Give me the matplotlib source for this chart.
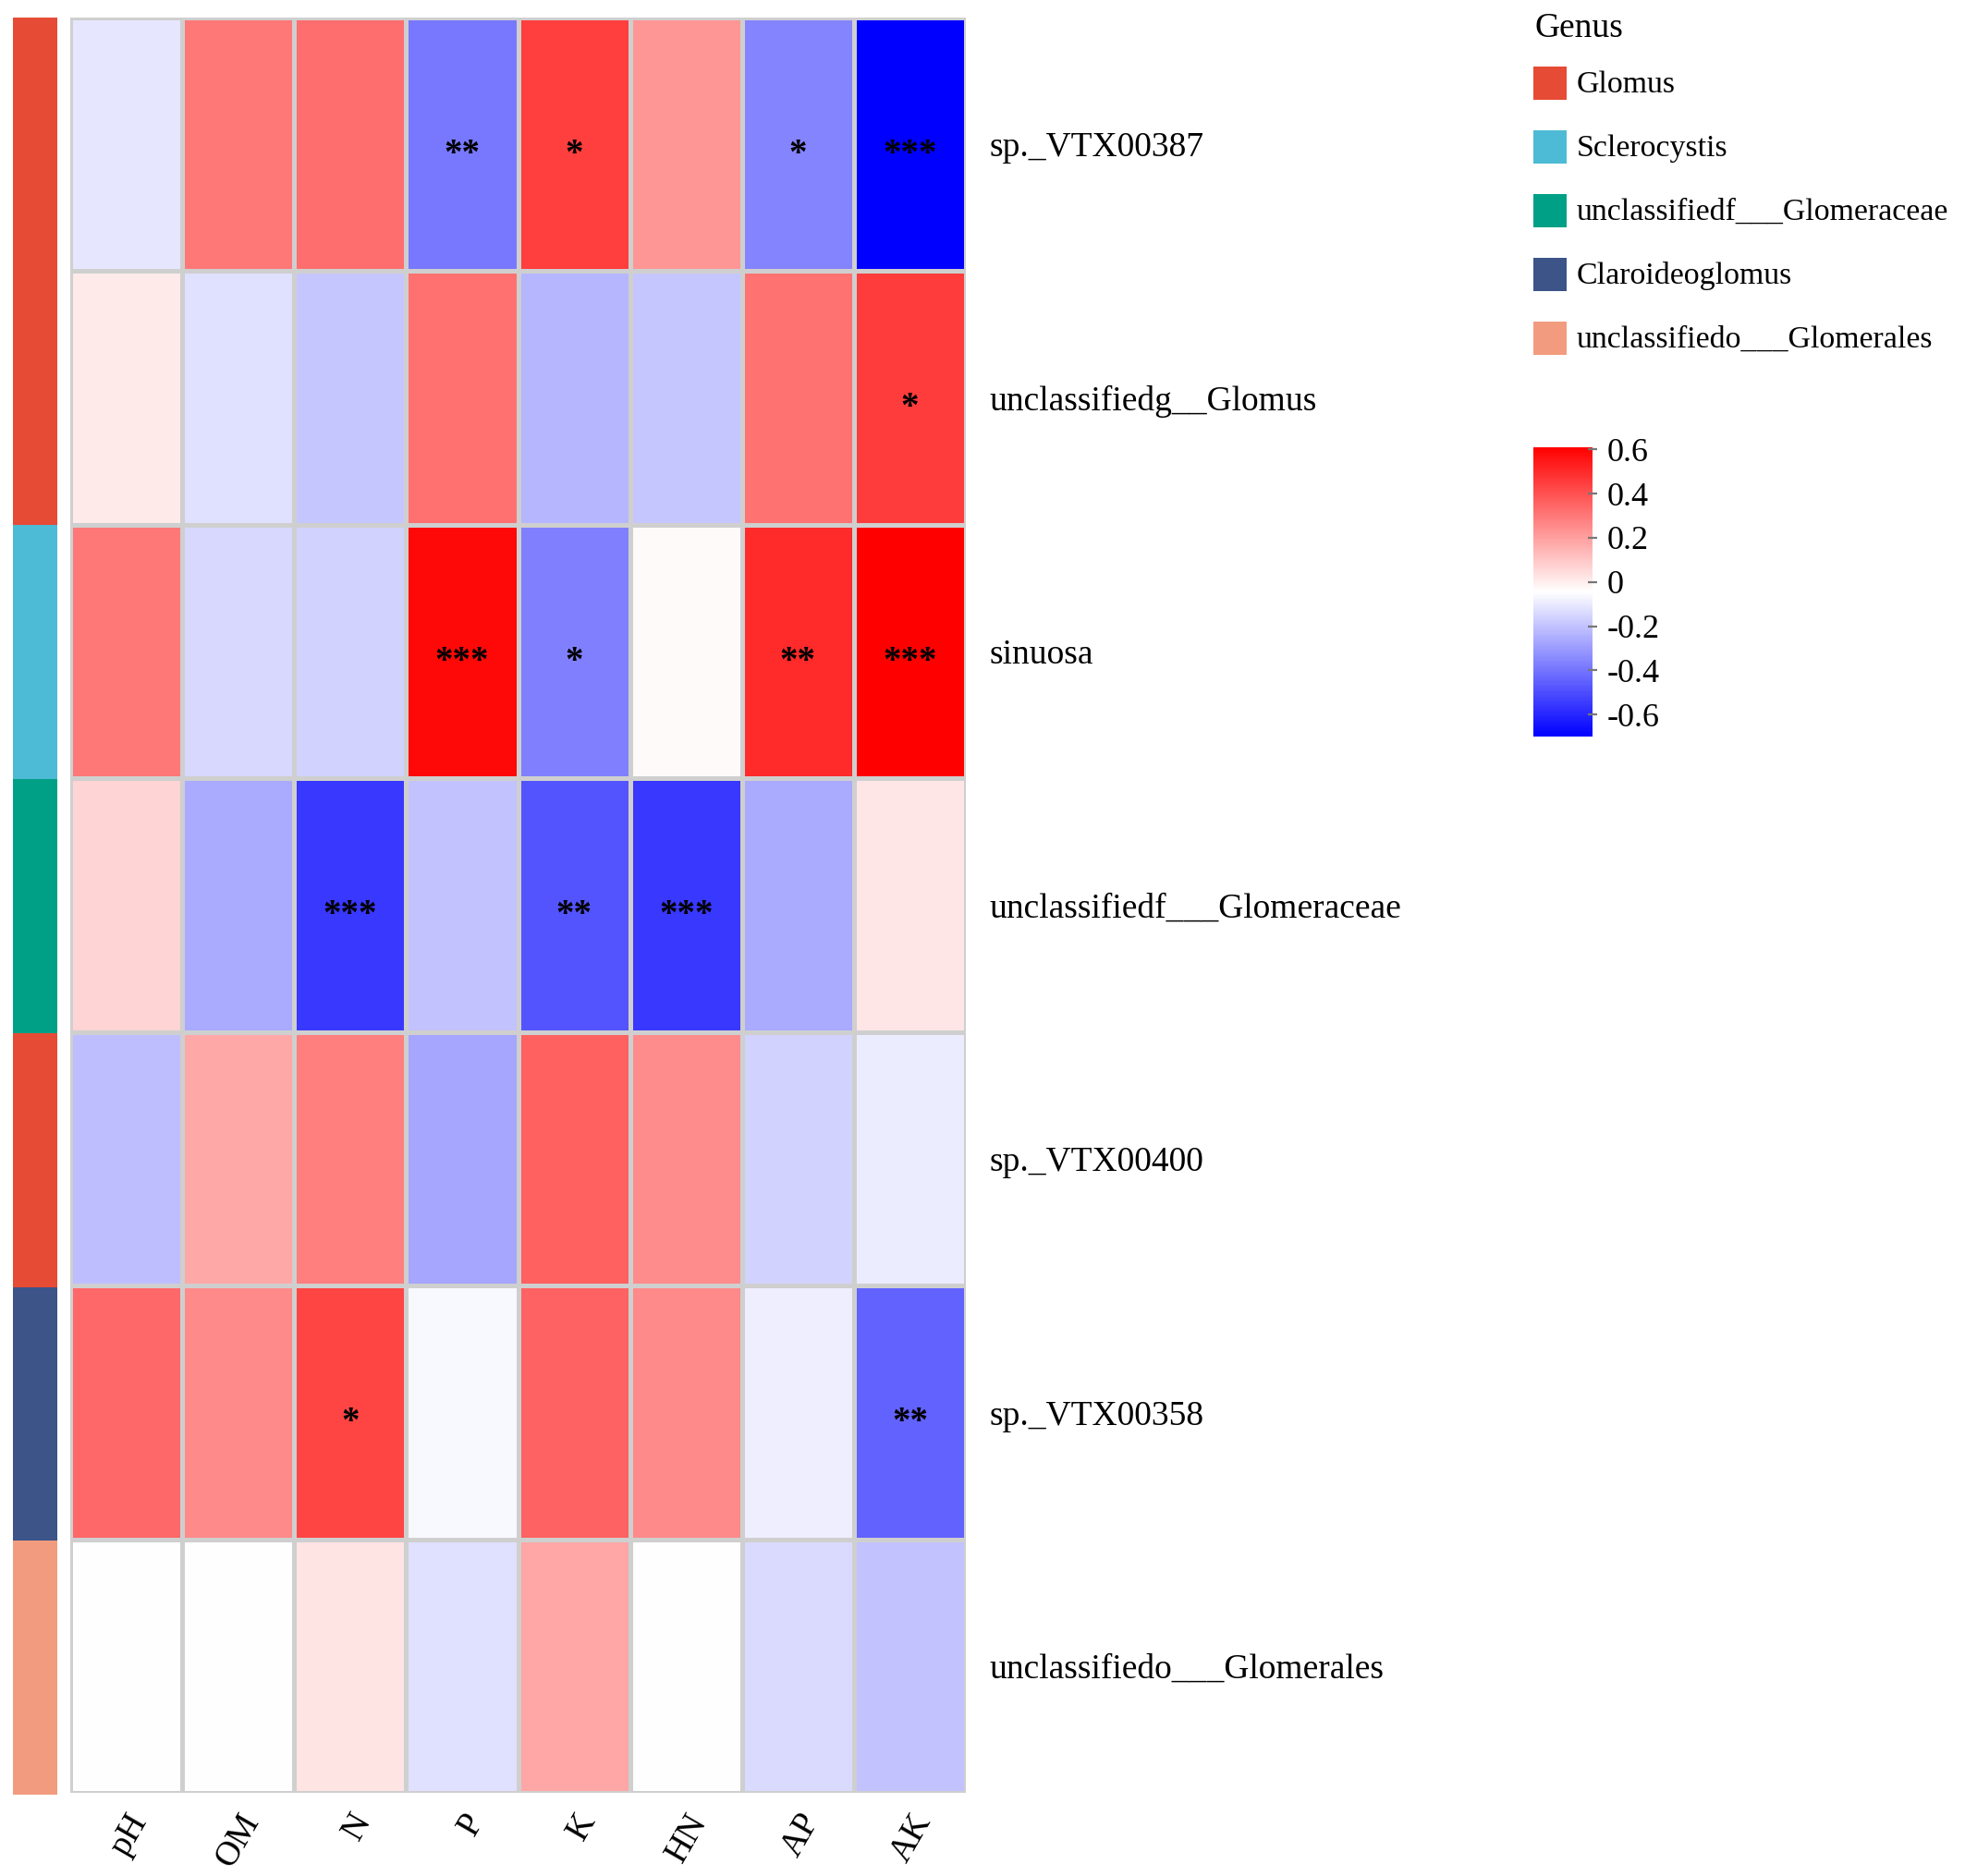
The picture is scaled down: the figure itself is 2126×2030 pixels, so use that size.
import numpy as np
import matplotlib.pyplot as plt
import matplotlib.transforms as mtransforms
from matplotlib.colors import LinearSegmentedColormap, ListedColormap, Normalize
from matplotlib.patches import Rectangle

plt.rcParams['font.family'] = ['Liberation Serif', 'DejaVu Serif']

# données
variables = ["pH", "OM", "N", "P", "K", "HN", "AP", "AK"]
especes = ["sp._VTX00387", "unclassifiedg__Glomus", "sinuosa",
           "unclassifiedf___Glomeraceae", "sp._VTX00400", "sp._VTX00358",
           "unclassifiedo___Glomerales"]
genres = ["Glomus", "Sclerocystis", "unclassifiedf___Glomeraceae",
          "Claroideoglomus", "unclassifiedo___Glomerales"]
couleurs_genres = ["#E64B35", "#4DBBD5", "#00A087", "#3C5488", "#F39B7F"]
genre_espece = [0, 0, 1, 2, 0, 3, 4]

correl = np.array([
    [-0.11, 0.30, 0.325, -0.39, 0.45, 0.225, -0.36, -0.70],
    [0.01, -0.125, -0.19, 0.32, -0.23, -0.19, 0.315, 0.455],
    [0.30, -0.145, -0.16, 0.585, -0.37, -0.03, 0.50, 0.61],
    [0.065, -0.26, -0.555, -0.20, -0.48, -0.555, -0.265, 0.02],
    [-0.21, 0.18, 0.285, -0.275, 0.36, 0.25, -0.16, -0.095],
    [0.34, 0.255, 0.435, -0.065, 0.355, 0.255, -0.09, -0.445],
    [-0.045, -0.05, 0.025, -0.125, 0.185, -0.05, -0.14, -0.20],
])
etoiles = [
    ["", "", "", "**", "*", "", "*", "***"],
    ["", "", "", "", "", "", "", "*"],
    ["", "", "", "***", "*", "", "**", "***"],
    ["", "", "***", "", "**", "***", "", ""],
    ["", "", "", "", "", "", "", ""],
    ["", "", "*", "", "", "", "", "**"],
    ["", "", "", "", "", "", "", ""],
]
vmin, vmax = -0.70, 0.61

cmap = LinearSegmentedColormap.from_list("bwr_ph", ["#0000FF", "#FFFFFF", "#FF0000"], N=256)
norm = Normalize(vmin=vmin, vmax=vmax)

W, H = 2126, 2030
fig = plt.figure(figsize=(W / 200, H / 200), dpi=200)

def box(x0, y0, x1, y1):
    return [x0 / W, 1 - y1 / H, (x1 - x0) / W, (y1 - y0) / H]

# heatmap
ax = fig.add_axes(box(76, 19, 1045, 1940))
ax.pcolormesh(correl, cmap=cmap, norm=norm, edgecolors="#CFCFCF", linewidth=1.1)
ax.set_xlim(0, len(variables))
ax.set_ylim(len(especes), 0)
for i in range(len(especes)):
    for j in range(len(variables)):
        if etoiles[i][j]:
            ax.text(j + 0.5, i + 0.575, etoiles[i][j], ha="center", va="baseline",
                    fontsize=14, fontweight="bold")
ax.set_xticks(np.arange(len(variables)) + 0.5)
ax.set_xticklabels(variables, rotation=60, ha="right", va="top",
                   rotation_mode="anchor", fontsize=13.5)
decal = mtransforms.ScaledTranslation(-5 / 72, 0, fig.dpi_scale_trans)
for t in ax.get_xticklabels():
    t.set_transform(t.get_transform() + decal)
ax.set_yticks(np.arange(len(especes)) + 0.5)
ax.set_yticklabels(especes, fontsize=13.5)
ax.yaxis.tick_right()
ax.tick_params(length=0, pad=9)
ax.tick_params(axis="x", pad=6)
for s in ax.spines.values():
    s.set_visible(False)

# barre d'annotation
ax_a = fig.add_axes(box(14, 19, 62, 1942))
ax_a.pcolormesh(np.array(genre_espece).reshape(-1, 1), cmap=ListedColormap(couleurs_genres),
                vmin=-0.5, vmax=len(genres) - 0.5)
ax_a.set_ylim(len(especes), 0)
ax_a.axis("off")

# légende Genus
fig.text(1660 / W, 1 - 31 / H, "Genus", fontsize=13.5, va="center")
for k, nom in enumerate(genres):
    yc = 90 + 69 * k
    fig.add_artist(Rectangle((1659 / W, 1 - (yc + 18) / H), 36 / W, 36 / H,
                             transform=fig.transFigure, color=couleurs_genres[k], lw=0))
    fig.text(1706 / W, 1 - (yc + 2) / H, nom, fontsize=12.2, va="center")

# barre de couleur
ax_c = fig.add_axes(box(1659, 484, 1723, 797))
cb = fig.colorbar(plt.cm.ScalarMappable(norm=norm, cmap=cmap), cax=ax_c)
cb.outline.set_visible(False)
cb.set_ticks([0.6, 0.4, 0.2, 0, -0.2, -0.4, -0.6])
cb.set_ticklabels(["0.6", "0.4", "0.2", "0", "-0.2", "-0.4", "-0.6"])
ax_c.tick_params(direction="inout", length=3.5, width=0.8, color="#777777", pad=4,
                 labelsize=13)

fig.savefig("out.png", dpi=200, facecolor="white")
